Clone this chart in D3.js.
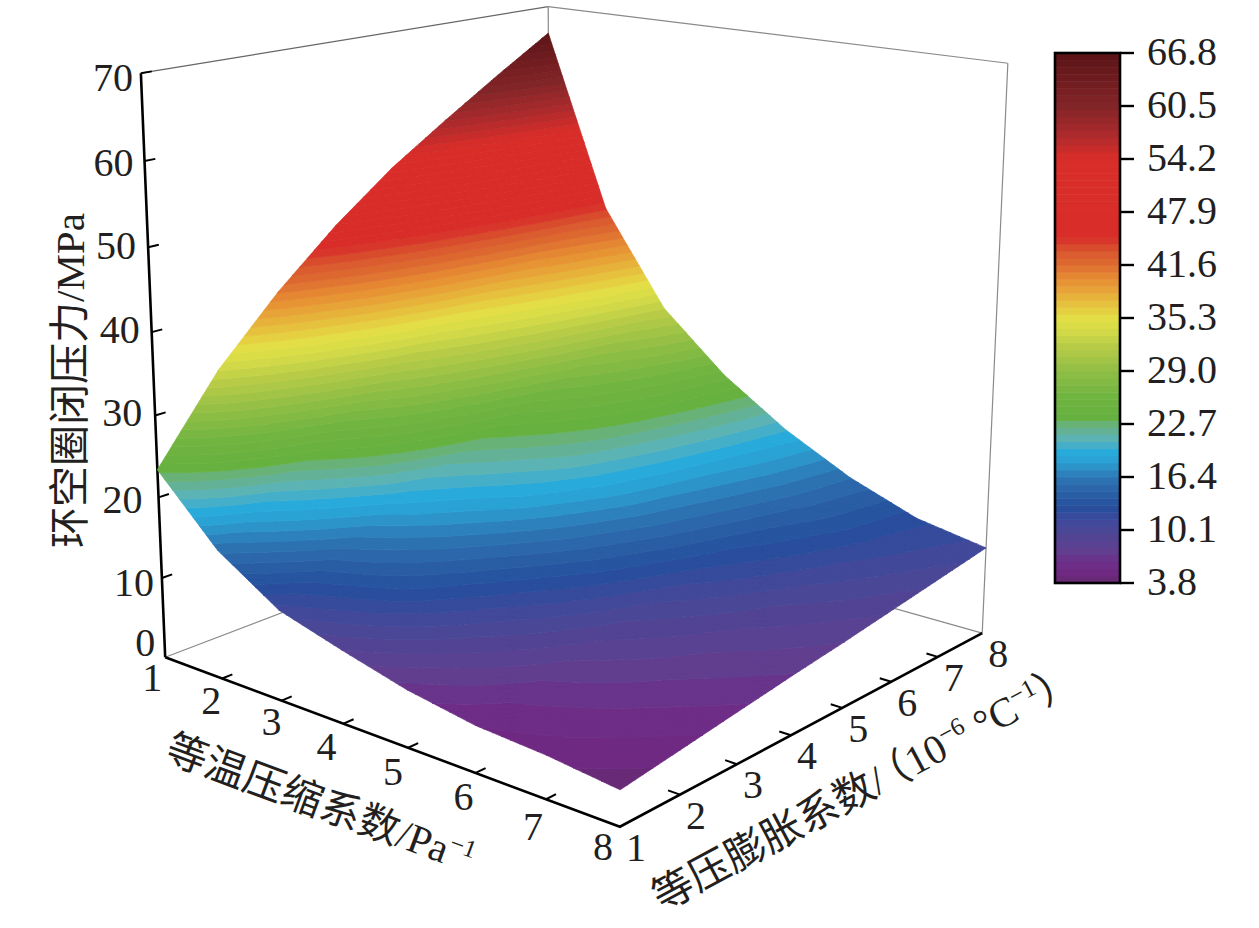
<!DOCTYPE html>
<html>
<head>
<meta charset="utf-8">
<script src="https://cdnjs.cloudflare.com/ajax/libs/d3/7.8.5/d3.min.js"></script>
<style>
html,body{margin:0;padding:0;background:#fff;}
</style>
</head>
<body>
<svg id="chart" width="1259" height="928"></svg>
<script>
var width = 1259, height = 928;

// data
var compress_ticks = [1,2,3,4,5,6,7,8];
var expand_ticks = [1,2,3,4,5,6,7,8];
var pressure_ticks = [0,10,20,30,40,50,60,70];
var bar_ticks = [3.8,10.1,16.4,22.7,29.0,35.3,41.6,47.9,54.2,60.5,66.8];
// rows: compress 1..8, columns: expansion 1..8
var pressure = [
	[23.4,33.3,40.9,47.4,53.0,57.7,62.2,66.5],
	[15.8,21.0,26.0,31.0,35.0,38.3,41.5,44.3],
	[11.0,15.4,19.5,22.0,24.5,27.3,29.8,32.4],
	[8.8,13.0,15.8,18.8,21.2,22.8,24.1,25.2],
	[6.8,9.5,12.0,14.6,16.6,17.8,18.9,19.8],
	[5.5,7.0,8.7,10.4,12.3,13.8,15.0,15.6],
	[5.0,6.1,7.2,8.3,9.6,11.0,12.1,12.5],
	[4.1,5.1,6.1,7.1,8.0,9.0,10.0,11.0]
];
var color_values = [3.8,4.5,6.2,7.7,10,11,12.9,14.5,16.4,18.1,19.3,20.8,22.6,23.5,26.4,28.9,32.3,33.9,35.4,37.8,40.1,41.6,43.4,44.9,54.3,57.6,60.4,66.8];
var color_hex = ["#5d2e6a","#70267f","#6e2e88","#613f90","#4b4795","#41489a","#254f9c","#2a5fa5","#2d78b5","#2b9ed0","#27aadc","#5ab3bb","#69b27e","#66b13f","#73b541","#8fbe45","#bccd47","#d6dc48","#e4de46","#e7b23a","#e68a32","#dd6e30","#d8542e","#d92d2a","#d92d2a","#a62a2c","#832528","#5a1316"];

// hand nudges of the tick labels [dx, dy]
var pressure_nudge = [[-10,-15],[-8,5],[-16,2],[-13,-3],[-12,-3],[-12,-2],[-11,2],[-8,4]];
var compress_nudge = [[-13,20],[-11,22],[-10,21],[-17,23],[-15,24],[-12,24],[-13,27],[-17,20]];

var svg_canvas = d3.select("#chart");
var serif = "'Liberation Serif','Noto Sans CJK SC',serif";

// box corners as they sit on the page, used to fit the camera
var box_anchors = [
	[1,1,0,165,658],[8,1,0,620,826],[8,8,0,982,634],[1,8,0,549,510],
	[1,1,70,141,73],[1,8,70,548,7],[8,8,70,1008,63]
];
var sx = d3.scaleLinear().domain([1,8]).range([0,1]);
var sy = d3.scaleLinear().domain([1,8]).range([0,1]);
var sz = d3.scaleLinear().domain([0,70]).range([0,1]);

function solve(A, b) {
	var n = b.length;
	var M = A.map(function(r,i){ return r.concat([b[i]]); });
	for (var c = 0; c < n; c++) {
		var p = c;
		for (var r = c+1; r < n; r++) if (Math.abs(M[r][c]) > Math.abs(M[p][c])) p = r;
		var t = M[c]; M[c] = M[p]; M[p] = t;
		for (var r2 = 0; r2 < n; r2++) {
			if (r2 == c) continue;
			var f = M[r2][c] / M[c][c];
			for (var k = c; k <= n; k++) M[r2][k] -= f * M[c][k];
		}
	}
	return M.map(function(r,i){ return r[n] / r[i]; });
}

function fit_camera() {
	var rows = [], rhs = [];
	box_anchors.forEach(function(a) {
		var X = sx(a[0]), Y = sy(a[1]), Z = sz(a[2]), u = a[3], v = a[4];
		rows.push([X,Y,Z,1,0,0,0,0,-u*X,-u*Y,-u*Z]); rhs.push(u);
		rows.push([0,0,0,0,X,Y,Z,1,-v*X,-v*Y,-v*Z]); rhs.push(v);
	});
	var ATA = d3.range(11).map(function(i){ return d3.range(11).map(function(j){ return d3.sum(rows, function(r){ return r[i]*r[j]; }); }); });
	var ATb = d3.range(11).map(function(i){ return d3.sum(rows, function(r,k){ return r[i]*rhs[k]; }); });
	return solve(ATA, ATb);
}
var cam = fit_camera();

function project(x, y, z) {
	var X = sx(x), Y = sy(y), Z = sz(z);
	var w = cam[8]*X + cam[9]*Y + cam[10]*Z + 1;
	return [(cam[0]*X + cam[1]*Y + cam[2]*Z + cam[3]) / w, (cam[4]*X + cam[5]*Y + cam[6]*Z + cam[7]) / w];
}

var line = d3.line();

// back of the box
var back = svg_canvas.append("g").attr("fill","none").attr("stroke","#8a8a8a").attr("stroke-width",1.2);
back.append("path").attr("stroke","#666").attr("d", line([project(1,1,70),project(1,8,70)]));
[[[1,8,70],[8,8,70]],[[8,8,70],[8,8,0]],[[1,8,70],[1,8,0]],[[1,1,0],[1,8,0]],[[1,8,0],[8,8,0]]].forEach(function(s) {
	back.append("path").attr("d", line(s.map(function(p){ return project(p[0],p[1],p[2]); })));
});

// axes
var axes = svg_canvas.append("g").attr("fill","none").attr("stroke","#000").attr("stroke-width",2.6);
axes.append("path").attr("d", line([project(1,1,0),project(1,1,70)]));
axes.append("path").attr("d", line([project(1,1,0),project(8,1,0),project(8,8,0)]));
var ticks_g = svg_canvas.append("g").attr("fill","none").attr("stroke","#000").attr("stroke-width",2);
compress_ticks.slice(1,-1).forEach(function(t){ ticks_g.append("path").attr("d", line([project(t,1,0),project(t,1.16,0)])); });
expand_ticks.slice(1,-1).forEach(function(t){ ticks_g.append("path").attr("d", line([project(8,t,0),project(7.84,t,0)])); });
pressure_ticks.slice(1).forEach(function(t){ ticks_g.append("path").attr("d", line([project(1,1,t),project(1,1.16,t)])); });

// colour scale, cut in bands
var band_count = 75;
var band_size = 63 / band_count;
var color_scale = d3.scaleLinear().domain(color_values).range(color_hex).clamp(true);
function band_color(b) { return color_scale(3.8 + (b + 0.5) * band_size); }

// surface, each small triangle is clipped to the colour bands
var cell_steps = 8;
var band_paths = d3.range(band_count).map(function(){ return []; });
function mesh_node(i, j, a, b) {
	var z00 = pressure[i][j], z10 = pressure[i+1][j], z01 = pressure[i][j+1], z11 = pressure[i+1][j+1];
	var v = z00*(1-a)*(1-b) + z10*a*(1-b) + z01*(1-a)*b + z11*a*b;
	var p = project(compress_ticks[i]+a, expand_ticks[j]+b, v);
	return [p[0], p[1], v];
}
function clip_band(poly, limit, keep_above) {
	var out = [];
	poly.forEach(function(p, k) {
		var q = poly[(k+1) % poly.length];
		var p_in = keep_above ? p[2] >= limit : p[2] <= limit;
		var q_in = keep_above ? q[2] >= limit : q[2] <= limit;
		if (p_in) out.push(p);
		if (p_in != q_in) {
			var t = (limit - p[2]) / (q[2] - p[2]);
			out.push([p[0]+t*(q[0]-p[0]), p[1]+t*(q[1]-p[1]), limit]);
		}
	});
	return out;
}
function add_triangle(tri) {
	var vals = tri.map(function(p){ return p[2]; });
	var first = Math.max(0, Math.floor((d3.min(vals)-3.8)/band_size));
	var last = Math.min(band_count-1, Math.floor((d3.max(vals)-3.8)/band_size));
	for (var b = first; b <= last; b++) {
		var poly = tri;
		if (b > 0) poly = clip_band(poly, 3.8 + b*band_size, true);
		if (b < band_count-1 && poly.length) poly = clip_band(poly, 3.8 + (b+1)*band_size, false);
		if (poly.length > 2) band_paths[b].push("M" + poly.map(function(p){ return p[0].toFixed(2)+","+p[1].toFixed(2); }).join("L") + "Z");
	}
}
for (var i = 0; i < 7; i++) {
	for (var j = 0; j < 7; j++) {
		for (var a = 0; a < cell_steps; a++) {
			for (var b = 0; b < cell_steps; b++) {
				var a0 = a/cell_steps, a1 = (a+1)/cell_steps, b0 = b/cell_steps, b1 = (b+1)/cell_steps;
				var n00 = mesh_node(i,j,a0,b0), n10 = mesh_node(i,j,a1,b0), n11 = mesh_node(i,j,a1,b1), n01 = mesh_node(i,j,a0,b1);
				add_triangle([n00,n10,n11]);
				add_triangle([n00,n11,n01]);
			}
		}
	}
}
svg_canvas.append("g").selectAll("path")
	.data(band_paths)
	.enter()
	.append("path")
	.attr("d", function(d){ return d.join(""); })
	.attr("fill", function(d,i){ return band_color(i); })
	.attr("stroke", function(d,i){ return band_color(i); })
	.attr("stroke-width", 0.7);

// tick labels
var tick_text = svg_canvas.append("g").attr("font-family", serif).attr("font-size", 40).attr("fill", "#231f20");
compress_ticks.forEach(function(t,i) {
	var p = project(t,1,0);
	tick_text.append("text").attr("x", p[0]+compress_nudge[i][0]).attr("y", p[1]+compress_nudge[i][1]+13.5).attr("text-anchor","middle").text(t);
});
expand_ticks.forEach(function(t) {
	var p = project(8,t,0);
	tick_text.append("text").attr("x", p[0]+16).attr("y", p[1]+34).attr("text-anchor","middle").text(t);
});
pressure_ticks.forEach(function(t,i) {
	var p = project(1,1,t);
	tick_text.append("text").attr("x", p[0]+pressure_nudge[i][0]).attr("y", p[1]+pressure_nudge[i][1]+13.5).attr("text-anchor","end").text(t);
});

// colour bar
var bar_scale = d3.scaleLinear().domain([3.8,66.8]).range([583,53]);
var bar = svg_canvas.append("g");
bar.selectAll("rect").data(d3.range(band_count)).enter().append("rect")
	.attr("x",1055).attr("width",65)
	.attr("y",function(b){ return bar_scale(3.8+(b+1)*band_size); })
	.attr("height",function(b){ return bar_scale(3.8+b*band_size)-bar_scale(3.8+(b+1)*band_size)+0.5; })
	.attr("fill",band_color);
bar.append("rect").attr("x",1055).attr("y",53).attr("width",65).attr("height",530).attr("fill","none").attr("stroke","#000").attr("stroke-width",2.6);
bar.selectAll("line").data(bar_ticks).enter().append("line")
	.attr("x1",1120).attr("x2",1134).attr("y1",bar_scale).attr("y2",bar_scale).attr("stroke","#000").attr("stroke-width",2.4);
bar.selectAll("text").data(bar_ticks).enter().append("text")
	.attr("x",1147).attr("y",function(d){ return bar_scale(d)+12; })
	.attr("font-family",serif).attr("font-size",40).attr("fill","#231f20")
	.text(function(d){ return d.toFixed(1); });

// axis titles, parts are [text, is_sup, back_to_baseline, dx]
function sup_title(x, y, deg, parts) {
	var t = svg_canvas.append("text").attr("font-family",serif).attr("font-size",41).attr("fill","#231f20")
		.attr("transform","translate("+x+","+y+") rotate("+deg+")");
	parts.forEach(function(p) {
		t.append("tspan").attr("font-size",p[1] ? 25 : 41).attr("dy",p[1] ? -15 : (p[2] ? 15 : 0)).attr("dx",p[3] || 0).text(p[0]);
	});
}
sup_title(84,548,-90,[["环空圈闭压力/MPa"]]);
sup_title(163,760,20.3,[["等温压缩系数/Pa"],["−1",1]]);
sup_title(662,912,-28.3,[["等压膨胀系数/"],["（",0,0,-12],["10"],["−6",1],[" °C",0,1],["−1",1],["）",0,1]]);
</script>
</body>
</html>
